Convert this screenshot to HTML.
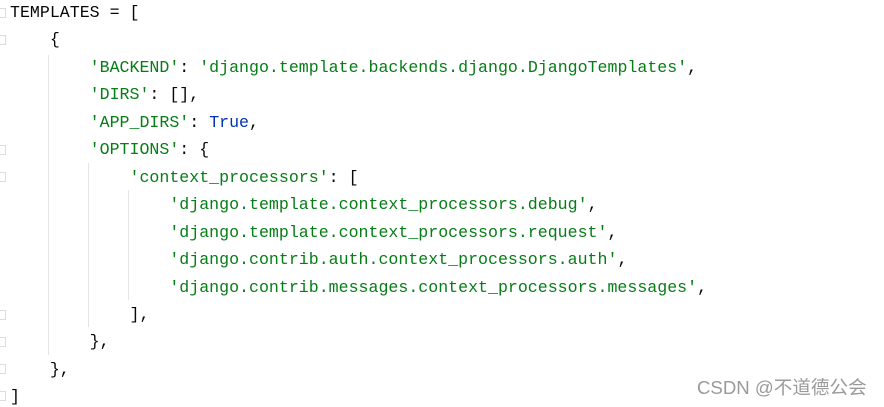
<!DOCTYPE html>
<html><head><meta charset="utf-8"><style>
html,body{margin:0;padding:0;background:#fff;width:884px;height:407px;overflow:hidden;position:relative}
pre{position:absolute;left:10px;top:-1px;margin:0;font-family:"Liberation Mono",monospace;font-size:16.6px;line-height:27.45px;color:#080808}
.s{color:#067d17}.b{color:#0033b3}
.g{position:absolute;width:1px;background:#e4e4e4}
.f{position:absolute;left:0;width:6px;height:10px;border:1px solid #ddd;border-left:none;box-sizing:border-box}
.wm{position:absolute;left:697px;top:377px;font-family:"Liberation Sans","Noto Sans CJK SC",sans-serif;font-size:18.6px;color:#9a9a9a;line-height:22px}
</style></head><body>
<div class="g" style="left:48px;top:55px;height:300px"></div>
<div class="g" style="left:88px;top:163px;height:164px"></div>
<div class="g" style="left:128px;top:190px;height:110px"></div>
<div class="f" style="top:8px"></div>
<div class="f" style="top:35px"></div>
<div class="f" style="top:145px"></div>
<div class="f" style="top:172px"></div>
<div class="f" style="top:310px"></div>
<div class="f" style="top:337px"></div>
<div class="f" style="top:364px"></div>
<div class="f" style="top:391px"></div>
<pre>TEMPLATES = [
    {
        <span class="s">'BACKEND'</span>: <span class="s">'django.template.backends.django.DjangoTemplates'</span>,
        <span class="s">'DIRS'</span>: [],
        <span class="s">'APP_DIRS'</span>: <span class="b">True</span>,
        <span class="s">'OPTIONS'</span>: {
            <span class="s">'context_processors'</span>: [
                <span class="s">'django.template.context_processors.debug'</span>,
                <span class="s">'django.template.context_processors.request'</span>,
                <span class="s">'django.contrib.auth.context_processors.auth'</span>,
                <span class="s">'django.contrib.messages.context_processors.messages'</span>,
            ],
        },
    },
]</pre>
<div class="wm">CSDN @不道德公会</div>
</body></html>
